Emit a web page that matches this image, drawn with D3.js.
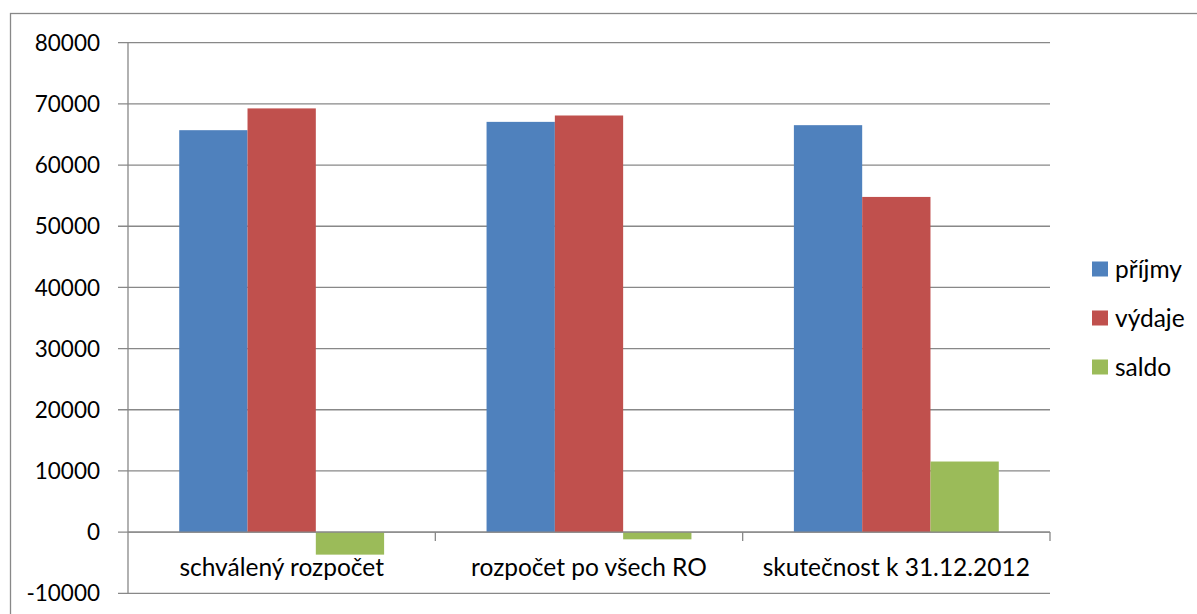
<!DOCTYPE html>
<html>
<head>
<meta charset="utf-8">
<script src="https://d3js.org/d3.v7.min.js"></script>
<style>
body { margin: 0; background: #fff; }
svg { display: block; font-family: Lato, 'Open Sans', sans-serif; }
</style>
</head>
<body>
<svg></svg>
<script>
const categories = ["schválený rozpočet", "rozpočet po všech RO", "skutečnost k 31.12.2012"];
const seriesNames = ["příjmy", "výdaje", "saldo"];
const seriesColors = ["#4f81bd", "#c0504d", "#9bbb59"];
const prijmy = [65700, 67060, 66520];
const vydaje = [69260, 68100, 54790];
const saldo = [-3680, -1180, 11540];
const yTicks = [-10000, 0, 10000, 20000, 30000, 40000, 50000, 60000, 70000, 80000];

const width = 1197, height = 614;
const svg = d3.select("svg").attr("width", width).attr("height", height);

// outer chart border
svg.append("rect")
  .attr("x", 10.5).attr("y", 13.5)
  .attr("width", 1200).attr("height", 620)
  .attr("fill", "none").attr("stroke", "#888").attr("stroke-width", 1.3);

const plot = { left: 128, right: 1050, top: 42.7, bottom: 593.3 };

const y = d3.scaleLinear().domain([-10000, 80000]).range([plot.bottom, plot.top]);
const x = d3.scaleBand().domain(categories).range([plot.left, plot.right]);
const xs = d3.scaleBand().domain(seriesNames).range([0, x.bandwidth()])
  .paddingInner(0).paddingOuter(0.75);

const series = [prijmy, vydaje, saldo];

// gridlines + y ticks
const g = svg.append("g");
g.selectAll("line.grid").data(yTicks).join("line")
  .attr("class", "grid")
  .attr("x1", plot.left - 10).attr("x2", plot.right)
  .attr("y1", d => y(d)).attr("y2", d => y(d))
  .attr("stroke", "#888").attr("stroke-width", 1.3);

g.selectAll("text.ytick").data(yTicks).join("text")
  .attr("class", "ytick")
  .attr("x", 100).attr("y", d => y(d))
  .attr("dy", "0.36em")
  .attr("text-anchor", "end")
  .attr("font-size", 22.5)
  .attr("fill", "#000")
  .text(d => d);

// bars
categories.forEach((c, ci) => {
  series.forEach((s, si) => {
    const v = s[ci];
    svg.append("rect")
      .attr("x", x(c) + xs(seriesNames[si]))
      .attr("width", xs.bandwidth())
      .attr("y", y(Math.max(0, v)))
      .attr("height", Math.abs(y(v) - y(0)))
      .attr("fill", seriesColors[si]);
  });
});

// y axis line
svg.append("line")
  .attr("x1", plot.left).attr("x2", plot.left)
  .attr("y1", plot.top).attr("y2", plot.bottom)
  .attr("stroke", "#888").attr("stroke-width", 1.3);

// x axis at zero
svg.append("line")
  .attr("x1", plot.left).attr("x2", plot.right)
  .attr("y1", y(0)).attr("y2", y(0))
  .attr("stroke", "#888").attr("stroke-width", 1.3);

const catEdges = categories.map(c => x(c) + x.bandwidth());
svg.selectAll("line.xtick").data(catEdges).join("line")
  .attr("class", "xtick")
  .attr("x1", d => d).attr("x2", d => d)
  .attr("y1", y(0)).attr("y2", y(0) + 9)
  .attr("stroke", "#888").attr("stroke-width", 1.3);

svg.selectAll("text.xlabel").data(categories).join("text")
  .attr("class", "xlabel")
  .attr("x", d => x(d) + x.bandwidth() / 2)
  .attr("y", 576)
  .attr("text-anchor", "middle")
  .attr("font-size", 24.5)
  .attr("fill", "#000")
  .text(d => d);

// legend
const legendY = [269, 318, 367];
const legend = svg.append("g");
seriesNames.forEach((n, i) => {
  legend.append("rect")
    .attr("x", 1092).attr("y", legendY[i] - 7.5)
    .attr("width", 16).attr("height", 15)
    .attr("fill", seriesColors[i]);
  legend.append("text")
    .attr("x", 1115).attr("y", legendY[i])
    .attr("dy", "0.36em")
    .attr("font-size", 24.5)
    .attr("fill", "#000")
    .text(n);
});
</script>
</body>
</html>
